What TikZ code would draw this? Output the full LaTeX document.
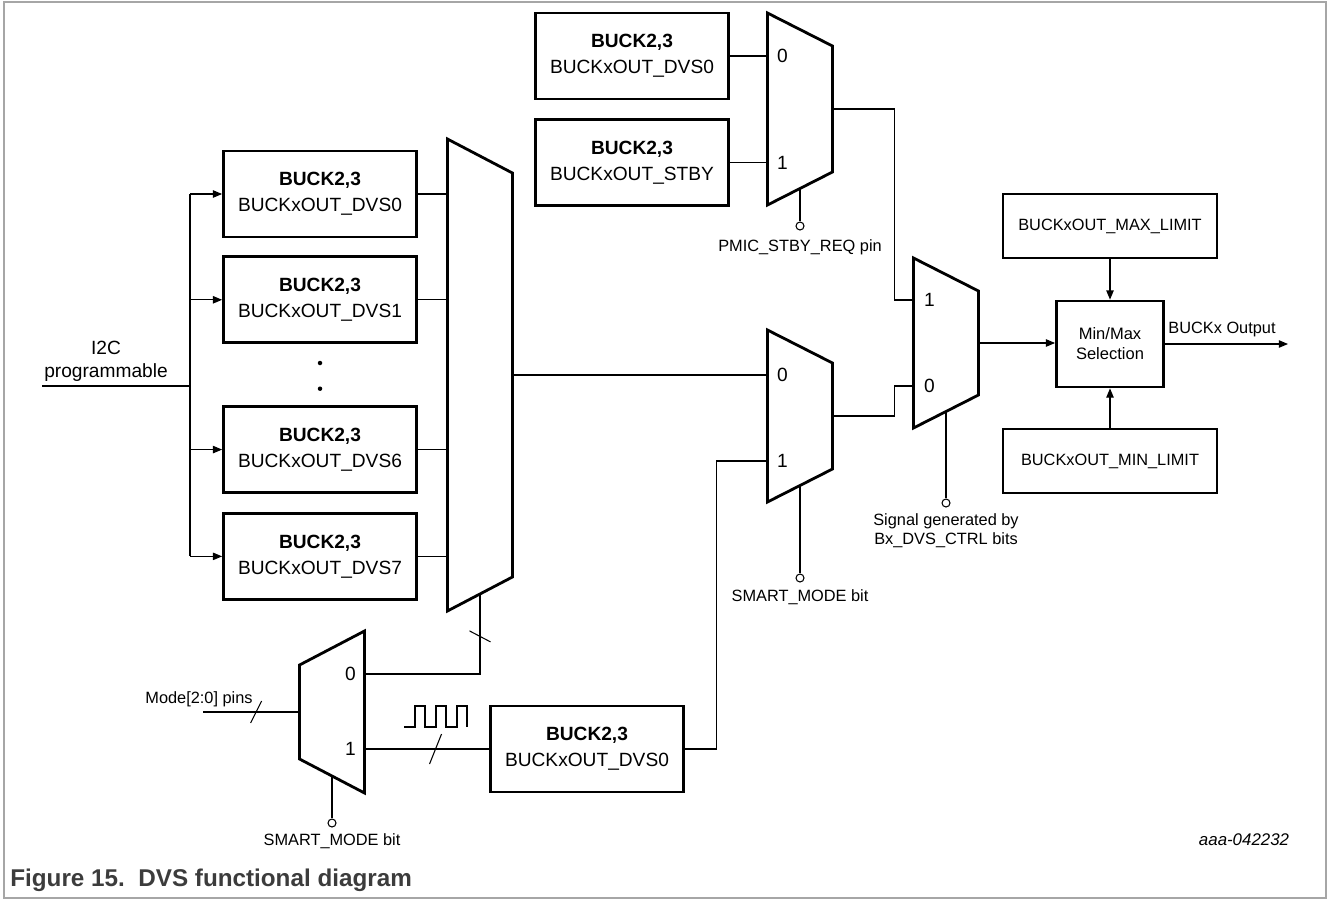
\documentclass[tikz,border=0pt]{standalone}
\usepackage{fontspec}
\setmainfont{Liberation Sans}
\usetikzlibrary{positioning,arrows.meta,calc}
\definecolor{capgray}{HTML}{3C3C3C}
\newcommand{\boxfont}{\fontsize{10.9}{14.8}\selectfont}
\newcommand{\lblfont}{\fontsize{9.3}{11}\selectfont}
% mux outlines drawn on a bare node: narrow side right / left
\newcommand{\muxR}[2]{\draw[muxline] (#1.north west) -- ([yshift=-#2]#1.north east) -- ([yshift=#2]#1.south east) -- (#1.south west) -- cycle;}
\newcommand{\muxL}[2]{\draw[muxline] ([yshift=-#2]#1.north west) -- (#1.north east) -- (#1.south east) -- ([yshift=#2]#1.south west) -- cycle;}

\tikzset{
  regbox/.style={draw, line width=1.6pt, minimum width=3.86cm, minimum height=1.72cm, align=center, font=\boxfont, inner sep=0pt},
  limbox/.style={draw, line width=1.6pt, minimum width=4.28cm, minimum height=1.28cm, font=\lblfont},
  muxnode/.style={minimum width=1.3cm, inner sep=0pt, outer sep=0pt},
  muxline/.style={line width=1.6pt, line join=miter},
  wire/.style={line width=0.6pt},
  arr/.style={wire, -{Triangle[length=5.2pt,width=4.2pt]}},
  selpin/.style={circle, draw, line width=0.6pt, fill=white, inner sep=0pt, minimum size=0.16cm},
  lbl/.style={font=\lblfont, align=center, inner sep=0pt},
  dot/.style={circle, fill, inner sep=0pt, minimum size=0.09cm},
}

\begin{document}
\begin{tikzpicture}[x=0.02cm, y=-0.02cm]
\useasboundingbox (0,0) rectangle (1328,900);
\draw[gray!70, line width=0.8pt] (4,2) rectangle (1326,898);

% DVS registers
\node[regbox] (b0) at (320,194) {\textbf{BUCK2,3}\\BUCKxOUT\_DVS0};
\node[regbox, below=0.34cm of b0] (b1) {\textbf{BUCK2,3}\\BUCKxOUT\_DVS1};
\node[regbox, below=1.22cm of b1] (b6) {\textbf{BUCK2,3}\\BUCKxOUT\_DVS6};
\node[regbox, below=0.36cm of b6] (b7) {\textbf{BUCK2,3}\\BUCKxOUT\_DVS7};
\node[dot] (d1) at (320,363) {};
\node[dot, below=0.41cm of d1] (d2) {};

\coordinate (i2c) at (42,386);
\coordinate (bus) at (190,386);
\node[font=\fontsize{10.9}{13}\selectfont, align=center] (i2clbl) at (106,361) {I2C\\programmable};
\draw[wire] (i2c) -- (bus);
\draw[wire] (b0.west -| bus) -- (b7.west -| bus);
\foreach \b in {b0,b1,b6,b7}
  \draw[arr] (\b.west -| bus) -- (\b.west);

% big DVS mux
\node[muxnode, minimum height=9.44cm] (m1) at (480,375) {};
\muxR{m1}{0.68cm}
\foreach \b in {b0,b1,b6,b7}
  \draw[wire] (\b.east) -- (\b.east -| m1.west);

% standby mux
\node[regbox] (tA) at (632,56) {\textbf{BUCK2,3}\\BUCKxOUT\_DVS0};
\node[regbox, below=0.36cm of tA] (tB) {\textbf{BUCK2,3}\\BUCKxOUT\_STBY};
\node[muxnode, minimum height=3.84cm] (m0) at (800,109) {};
\muxR{m0}{0.66cm}
\coordinate (m0i0) at (tA.east -| m0.west);
\coordinate (m0i1) at (tB.east -| m0.west);
\draw[wire] (tA.east) -- (m0i0);
\draw[wire] (tB.east) -- (m0i1);
\node[font=\boxfont] (m0l0) at ([xshift=0.3cm]m0i0) {0};
\node[font=\boxfont] (m0l1) at ([xshift=0.3cm]m0i1) {1};
\node[selpin] (p0) at (800,226) {};
\draw[wire] ([yshift=0.33cm]m0.south) -- (p0);
\node[lbl] (p0lbl) at (800,247) {PMIC\_STBY\_REQ pin};

% smart mode mux
\node[muxnode, minimum height=3.44cm] (m2) at (800,416) {};
\muxR{m2}{0.66cm}
\coordinate (m2i0) at (m1.east -| m2.west);
\coordinate (m2i1) at ([yshift=-0.9cm]m2.west);
\draw[wire] (m1.east) -- (m2i0);
\node[font=\boxfont] (m2l0) at ([xshift=0.3cm]m2i0) {0};
\node[font=\boxfont] (m2l1) at ([xshift=0.3cm]m2i1) {1};
\node[selpin] (p2) at (800,578) {};
\draw[wire] ([yshift=0.33cm]m2.south) -- (p2);
\node[lbl] (p2lbl) at (800,597) {SMART\_MODE bit};

% DVS control mux
\node[muxnode, minimum height=3.4cm] (m4) at (946,343) {};
\muxR{m4}{0.66cm}
\coordinate (m4i1) at ([yshift=0.86cm]m4.west);
\coordinate (m4i0) at ([yshift=-0.86cm]m4.west);
\draw[wire] (m0.east) -| ([xshift=-0.38cm]m4i1) -- (m4i1);
\draw[wire] (m2.east) -| ([xshift=-0.38cm]m4i0) -- (m4i0);
\node[font=\boxfont] (m4l1) at ([xshift=0.32cm]m4i1) {1};
\node[font=\boxfont] (m4l0) at ([xshift=0.32cm]m4i0) {0};
\node[selpin] (p4) at (946,503) {};
\draw[wire] ([yshift=0.33cm]m4.south) -- (p4);
\node[lbl] (p4lbl) at (946,531) {Signal generated by\\Bx\_DVS\_CTRL bits};

% limits
\node[draw, line width=1.6pt, minimum width=2.14cm, minimum height=1.72cm, font=\fontsize{9.4}{11.3}\selectfont, align=center] (mm) at (1110,344) {Min/Max\\Selection};
\node[limbox] (mx) at (1110,226) {BUCKxOUT\_MAX\_LIMIT};
\node[limbox] (mn) at (1110,461) {BUCKxOUT\_MIN\_LIMIT};
\draw[arr] (mx) -- (mm);
\draw[arr] (mn) -- (mm);
\draw[arr] (m4.east) -- (m4.east -| mm.west);
\coordinate (out) at (1288,344);
\draw[arr] (mm.east) -- (out);
\node[lbl] (outlbl) at (1222,329) {BUCKx Output};

% mode pins mux
\node[muxnode, minimum height=3.24cm] (m3) at (332,712) {};
\muxL{m3}{0.68cm}
\node[regbox] (bz) at (587,749) {\textbf{BUCK2,3}\\BUCKxOUT\_DVS0};
\coordinate (m3o0) at ([yshift=0.76cm]m3.east);
\coordinate (m3o1) at (m3.east |- bz.west);
\coordinate (mode) at (203,712);
\draw[wire] (mode) -- coordinate[pos=0.55] (tk1) (m3.west);
\draw[wire] (tk1) ++(-5.5,11) -- ++(11,-22);
\node[lbl] (modelbl) at (199,699) {Mode[2:0] pins};
\draw[wire] ([yshift=0.34cm]m1.south) -- coordinate[pos=0.53] (tk2) (m1.south |- m3o0) -- (m3o0);
\draw[wire] (tk2) ++(-10.5,-5.5) -- ++(21,11);
\draw[wire] (m3o1) -- coordinate[pos=0.57] (tk3) (bz.west);
\draw[wire] (tk3) ++(-6,15) -- ++(12,-30);
\coordinate (sq) at (404,727);
\draw[wire] (sq) \foreach \i in {1,2,3} { -- ++(11,0) -- ++(0,-21) -- ++(10,0) -- ++(0,21)};
\draw[wire] (bz.east) -- ++(32,0) |- (m2i1);
\node[font=\boxfont] (m3l0) at ([xshift=-0.28cm]m3o0) {0};
\node[font=\boxfont] (m3l1) at ([xshift=-0.28cm]m3o1) {1};
\node[selpin] (p3) at (332,823) {};
\draw[wire] ([yshift=0.34cm]m3.south) -- (p3);
\node[lbl] (p3lbl) at (332,841) {SMART\_MODE bit};

\node[font=\fontsize{9.6}{11}\selectfont\itshape] (figid) at (1244,840) {aaa-042232};
\node[anchor=west, inner sep=0pt, text=capgray, font=\fontsize{13.8}{16}\selectfont\bfseries] (cap) at (10,880) {Figure 15.~~DVS functional diagram};
\end{tikzpicture}
\end{document}
